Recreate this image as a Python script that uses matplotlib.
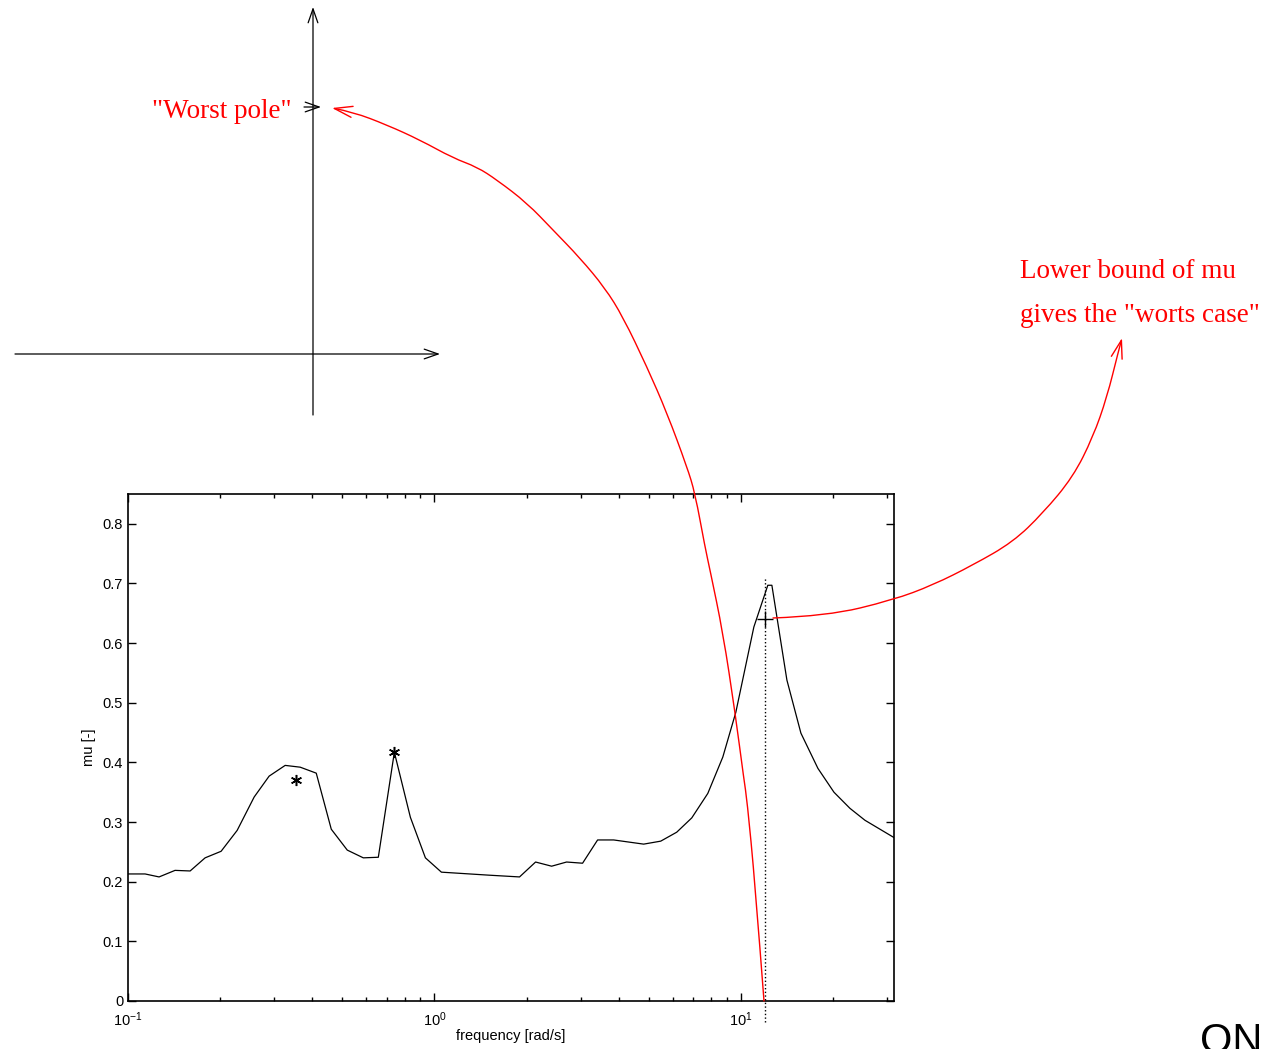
import matplotlib
matplotlib.use('Agg')
import matplotlib.pyplot as plt
from matplotlib.patches import FancyArrowPatch
from matplotlib.path import Path
from matplotlib.transforms import Affine2D
from matplotlib.ticker import FixedLocator, LogLocator, NullFormatter

plt.rcParams['font.family'] = ['Liberation Sans', 'DejaVu Sans']
plt.rcParams['mathtext.fontset'] = 'custom'
plt.rcParams['mathtext.rm'] = 'Liberation Sans'
plt.rcParams['mathtext.default'] = 'regular'

# mu lower bound vs frequency
freq = [0.1, 0.1137, 0.1263, 0.1424, 0.1595, 0.1785, 0.2013, 0.2271, 0.2581, 0.2888,
        0.3258, 0.3648, 0.4115, 0.4607, 0.5195, 0.5861, 0.6561, 0.7401, 0.8348, 0.9346,
        1.054, 1.502, 1.896, 2.139, 2.413, 2.700, 3.045, 3.409, 3.846, 4.819,
        5.478, 6.178, 6.918, 7.803, 8.735, 9.632, 11.03, 12.25, 12.63, 14.14,
        15.71, 17.85, 20.14, 22.71, 25.42, 28.46, 31.86]
mu = [0.213, 0.213, 0.208, 0.219, 0.218, 0.240, 0.251, 0.286, 0.342, 0.377,
      0.395, 0.392, 0.382, 0.288, 0.253, 0.240, 0.241, 0.417, 0.308, 0.240,
      0.216, 0.211, 0.208, 0.233, 0.226, 0.233, 0.231, 0.270, 0.270, 0.263,
      0.268, 0.283, 0.307, 0.348, 0.409, 0.484, 0.627, 0.697, 0.697, 0.538,
      0.449, 0.390, 0.350, 0.323, 0.303, 0.288, 0.273]

star_freq = [0.354, 0.740]
star_mu = [0.370, 0.417]

worst_freq = 11.98
worst_mu = 0.640

yticks = [0, 0.1, 0.2, 0.3, 0.4, 0.5, 0.6, 0.7, 0.8]
ytick_labels = ['0', '0.1', '0.2', '0.3', '0.4', '0.5', '0.6', '0.7', '0.8']

# hand-drawn annotation curves, image pixel coordinates
pole_curve = [(764, 1001), (755, 883), (747, 800), (744, 780), (735, 712), (723, 633),
              (710, 570), (705, 547), (695, 493), (687, 467), (667, 413), (647, 367),
              (623, 317), (605, 288), (580, 258), (553, 230), (527, 203), (497, 180),
              (477, 167), (453, 158), (420, 140), (387, 125), (353, 112), (332, 108)]
bound_curve = [(773, 618), (827, 616), (893, 600), (933, 585), (973, 565), (1013, 542),
               (1043, 513), (1073, 477), (1093, 437), (1107, 397), (1118, 353), (1122, 338)]


def smooth_path(pts):
    # quadratic b-spline style path: points act as control points
    verts = [pts[0]]
    codes = [Path.MOVETO]
    for i in range(1, len(pts) - 1):
        if i < len(pts) - 2:
            end = ((pts[i][0] + pts[i + 1][0]) / 2, (pts[i][1] + pts[i + 1][1]) / 2)
        else:
            end = pts[-1]
        verts += [pts[i], end]
        codes += [Path.CURVE3, Path.CURVE3]
    return Path(verts, codes)


W, H = 1266, 1049
fig = plt.figure(figsize=(W / 100, H / 100), dpi=100)
px = Affine2D().scale(1 / W, -1 / H).translate(0, 1) + fig.transFigure

ax = fig.add_axes([128 / W, 1 - 1001 / H, (894 - 128) / W, (1001 - 494) / H])
ax.plot(freq, mu, color='black', lw=0.9)
ax.plot(star_freq, star_mu, ls='none', marker=(6, 2, 0), color='black', ms=8, mew=1.1)
ax.plot([worst_freq], [worst_mu], ls='none', marker='+', color='black', ms=12, mew=1.0)
ax.plot([worst_freq, worst_freq], [-0.035, 0.709], ls=':', color='black', lw=1, clip_on=False)

ax.set_xscale('log')
ax.set_xlim(0.1, 31.62)
ax.set_ylim(0, 0.85)
ax.xaxis.set_major_locator(FixedLocator([0.1, 1, 10]))
ax.xaxis.set_minor_locator(LogLocator(base=10, subs=range(2, 10)))
ax.xaxis.set_minor_formatter(NullFormatter())
ax.set_yticks(yticks)
ax.set_yticklabels(ytick_labels)
ax.tick_params(which='both', direction='in', top=True, right=True, labelsize=10.5, width=1)
ax.tick_params(which='major', length=6)
ax.tick_params(which='minor', length=3)
ax.tick_params(axis='x', which='major', pad=7)
for s in ax.spines.values():
    s.set_linewidth(1.2)
ax.set_xlabel('frequency [rad/s]', fontsize=10.5, labelpad=0)
ax.set_ylabel('mu [-]', fontsize=10.5, labelpad=5)

# sketch of complex plane
black_arrows = [((313, 415), (313, 7)), ((15, 354), (440, 354)), ((304, 107), (321, 107))]
for a, b in black_arrows:
    fig.add_artist(FancyArrowPatch(a, b, transform=px, arrowstyle='->,head_length=10,head_width=3.5',
                                   color='black', lw=0.9, mutation_scale=1, shrinkA=0, shrinkB=0))

for pts in (pole_curve, bound_curve):
    fig.add_artist(FancyArrowPatch(path=smooth_path(pts), transform=px,
                                   arrowstyle='->,head_length=13,head_width=4',
                                   color='red', lw=1, mutation_scale=1, zorder=5))

serif = ['Liberation Serif', 'DejaVu Serif']
fig.text(292 / W, 1 - 111 / H, '"Worst pole"', color='red', family=serif, fontsize=19.5,
         ha='right', va='center')
fig.text(1020 / W, 1 - 272 / H, 'Lower bound of mu', color='red', family=serif, fontsize=19.5,
         ha='left', va='center')
fig.text(1020 / W, 1 - 315 / H, 'gives the "worts case"', color='red', family=serif, fontsize=19.5,
         ha='left', va='center')
fig.text(1200 / W, 1 - 1053 / H, 'ON', color='black', fontsize=30, ha='left', va='baseline')

fig.savefig('out.png', dpi=100)
